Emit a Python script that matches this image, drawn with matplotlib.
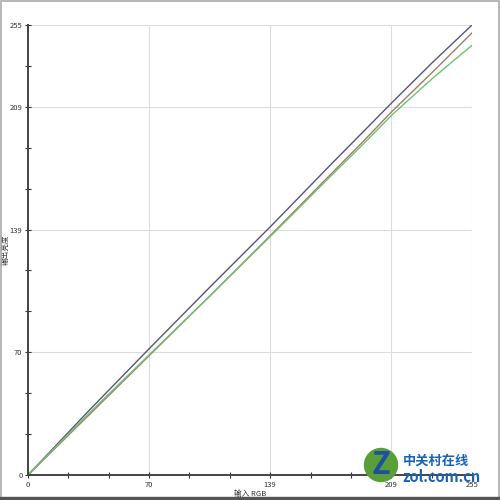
import matplotlib.pyplot as plt
from matplotlib.patches import Rectangle, Circle

plt.rcParams['font.family'] = ['Noto Sans CJK SC', 'DejaVu Sans']

# input levels and measured output for each channel
x_in = [0, 35, 70, 105, 139, 174, 192, 209, 232, 255]
out_top = [0, 36.5, 72, 107, 140.5, 176, 194, 211, 233.5, 255]
out_mid = [0, 34, 68, 102, 135.5, 170.5, 188.5, 206, 228, 250.5]
out_low = [0, 35, 68.5, 102, 135, 169.5, 187, 204, 224.5, 243.5]

major_vals = [0, 70, 139, 209, 255]
major_idx = [0, 3, 6, 9, 11]

fig = plt.figure(figsize=(5, 5), dpi=100)
ax = fig.add_axes([0.056, 0.05, 0.888, 0.9])

ax.plot(x_in, out_top, color='#55557f', lw=1.0)
ax.plot(x_in, out_mid, color='#a8786a', lw=1.0)
ax.plot(x_in, out_low, color='#6cc46c', lw=1.0)

ticks = [k * 255 / 11 for k in range(12)]
labels = ['' for _ in ticks]
for v, k in zip(major_vals, major_idx):
    labels[k] = str(v)

ax.set_xlim(0, 255)
ax.set_ylim(0, 255)
ax.set_xticks(ticks)
ax.set_yticks(ticks)
ax.set_xticklabels(labels)
ax.set_yticklabels(labels)
ax.tick_params(direction='inout', length=4, width=0.8, color='#333333',
               labelsize=5.5, labelcolor='#333333', pad=2)

for k in major_idx[1:]:
    ax.axvline(ticks[k], color='#dddddd', lw=0.8, zorder=0)
    ax.axhline(ticks[k], color='#dddddd', lw=0.8, zorder=0)

for s in ['top', 'right']:
    ax.spines[s].set_visible(False)
for s in ['left', 'bottom']:
    ax.spines[s].set_color('#444444')
    ax.spines[s].set_linewidth(1.4)

ax.set_xlabel('输入 RGB', fontsize=5.5, color='#333333')
ax.set_ylabel('输出亮度', fontsize=5.5, color='#333333')
ax.xaxis.set_label_coords(0.5, -0.034)
ax.yaxis.set_label_coords(-0.042, 0.5)

# watermark
fig.patches.append(Circle((0.762, 0.07), 0.033, transform=fig.transFigure,
                          color='#5a9e3a', zorder=5))
fig.text(0.762, 0.07, 'Z', fontsize=22, fontweight='bold', color='#1f4fa0',
         ha='center', va='center', zorder=6)
fig.text(0.805, 0.078, '中关村在线', fontsize=9.5, fontweight='bold',
         color='#1a62b5', va='center', zorder=6)
fig.text(0.805, 0.046, 'zol.com.cn', fontsize=10.5, fontweight='bold',
         color='#1a62b5', va='center', zorder=6)

fig.patches.append(Rectangle((0.002, 0.004), 0.996, 0.994, transform=fig.transFigure,
                             fill=False, edgecolor='#aaaaaa', lw=1.2))
fig.patches.append(Rectangle((0, 0), 1, 0.006, transform=fig.transFigure,
                             color='#555555'))

plt.savefig('out.png', dpi=100)
